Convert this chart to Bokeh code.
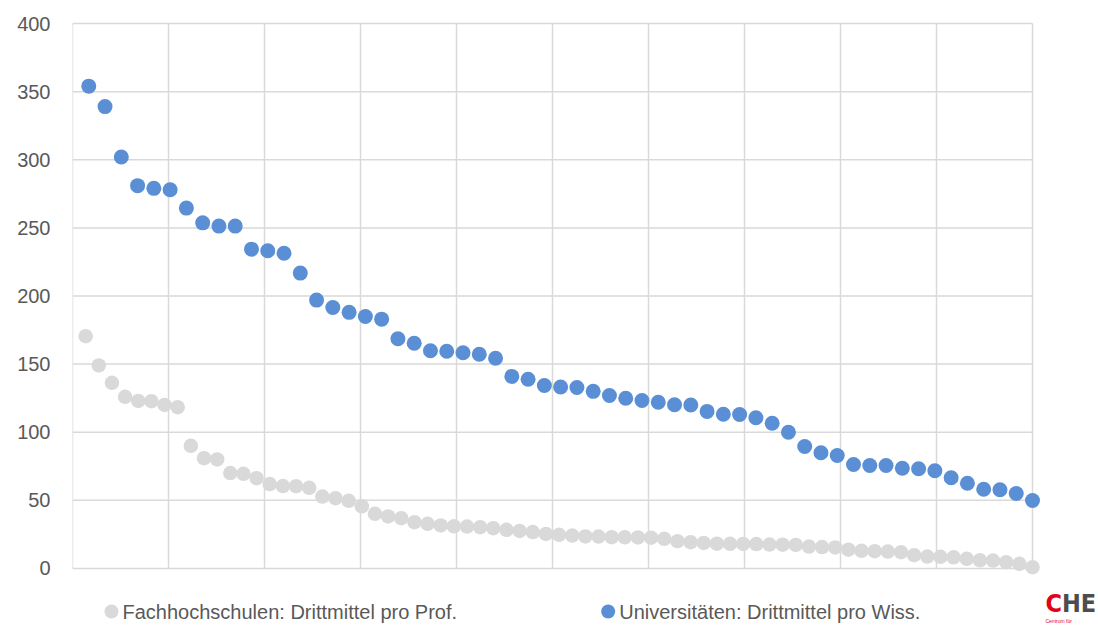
from bokeh.plotting import figure
from bokeh.models import Range1d, FixedTicker, Label
from bokeh.embed import file_html
from bokeh.resources import INLINE

# ---- data ----
fh_values = [170.5, 149, 136.3, 126, 123, 122.8, 120, 118.4, 90, 81,
             80, 70, 69.5, 66.3, 62, 60.5, 60.4, 59.2, 52.8, 51.6,
             49.7, 45.6, 40.1, 38.2, 36.9, 34, 32.8, 31.6, 31.0, 30.8,
             30.3, 29.6, 28.4, 27.6, 26.7, 25.4, 24.7, 24.2, 23.5, 23.4,
             23, 22.9, 22.8, 22.6, 21.8, 20, 19.3, 18.8, 18.2, 18.1,
             18, 17.9, 17.6, 17.5, 17.3, 16.1, 15.7, 15.5, 13.8, 13,
             12.7, 12.4, 12, 9.8, 8.8, 8.6, 8.2, 7.1, 6, 5.8,
             4.6, 3.4, 1]
uni_values = [354, 339, 302, 281, 279, 278, 264.5, 253.7, 251.3, 251.3,
              234.4, 233.2, 231.4, 216.8, 197, 191.6, 188, 185, 183, 168.6,
              165.3, 159.8, 159.5, 158.4, 157.2, 154.3, 141, 138.9, 134.3, 133.2,
              132.8, 130, 127, 125, 123.3, 122, 120.2, 120, 115.3, 113.2,
              113, 110.6, 106.6, 100, 89.5, 84.9, 82.9, 76.3, 75.6, 75.6,
              73.6, 73.2, 71.7, 66.6, 62.6, 58.2, 57.8, 55, 49.9]
y_ticks = [0, 50, 100, 150, 200, 250, 300, 350, 400]
x_grid = [i / 10 for i in range(11)]
series_names = ["Fachhochschulen: Drittmittel pro Prof.",
                "Universitäten: Drittmittel pro Wiss."]
series_colors = ["#d9d9d9", "#5a8fd5"]

fh_x = [(i + 1) / len(fh_values) for i in range(len(fh_values))]
uni_x = [(i + 1) / len(uni_values) for i in range(len(uni_values))]

FONT = "Liberation Sans"
TXT = "#595959"

p = figure(width=1098, height=628, output_backend="svg", toolbar_location=None,
           x_range=Range1d(0, 1.06875), y_range=Range1d(-44.04, 401.47),
           min_border_left=72, min_border_right=0, min_border_top=21,
           min_border_bottom=0)
p.outline_line_color = None
p.background_fill_color = "white"
p.border_fill_color = "white"
p.xaxis.visible = False
p.xgrid.visible = False
p.ygrid.visible = False

ya = p.yaxis[0]
ya.ticker = FixedTicker(ticks=y_ticks)
ya.axis_line_color = None
ya.major_tick_line_color = None
ya.minor_tick_line_color = None
ya.major_tick_out = 0
ya.major_tick_in = 0
ya.major_label_standoff = 22
ya.major_label_text_font = FONT
ya.major_label_text_font_size = "20px"
ya.major_label_text_color = TXT

# grid lines (bounded to the data area)
p.segment(x0=[0] * len(y_ticks), y0=y_ticks, x1=[1] * len(y_ticks), y1=y_ticks,
          line_color="#d9d9d9", line_width=1.5)
p.segment(x0=x_grid, y0=[0] * len(x_grid), x1=x_grid, y1=[400] * len(x_grid),
          line_color="#d9d9d9", line_width=1.5)

# series
p.scatter(fh_x, fh_values, size=14.5, fill_color=series_colors[0], line_color=None)
p.scatter(uni_x, uni_values, size=15, fill_color=series_colors[1], line_color=None)

# legend (drawn manually below the plot area)
leg_y = -31.6
leg_x = [0.0406, 0.558]
p.scatter(leg_x, [leg_y, leg_y], size=14, fill_color=series_colors, line_color=None)
for lx, name in zip(leg_x, series_names):
    p.add_layout(Label(x=lx + 0.0115, y=leg_y, text=name, text_font=FONT,
                       text_font_size="20px", text_color=TXT,
                       text_baseline="middle", text_align="left"))

# CHE logo
p.add_layout(Label(x=1.0135, y=-25.7, text="C", text_font="DejaVu Sans Condensed",
                   text_font_style="bold", text_font_size="25px", text_color="#e2001a",
                   text_baseline="middle", text_align="left"))
p.add_layout(Label(x=1.0307, y=-25.7, text="HE", text_font="DejaVu Sans Condensed",
                   text_font_style="bold", text_font_size="25px", text_color="#4d4d4d",
                   text_baseline="middle", text_align="left"))
p.add_layout(Label(x=1.0135, y=-38.9, text="Centrum für", text_font=FONT,
                   text_font_size="5px", text_color="#e2001a",
                   text_baseline="middle", text_align="left"))

open("out.html", "w").write(file_html(p, INLINE))
